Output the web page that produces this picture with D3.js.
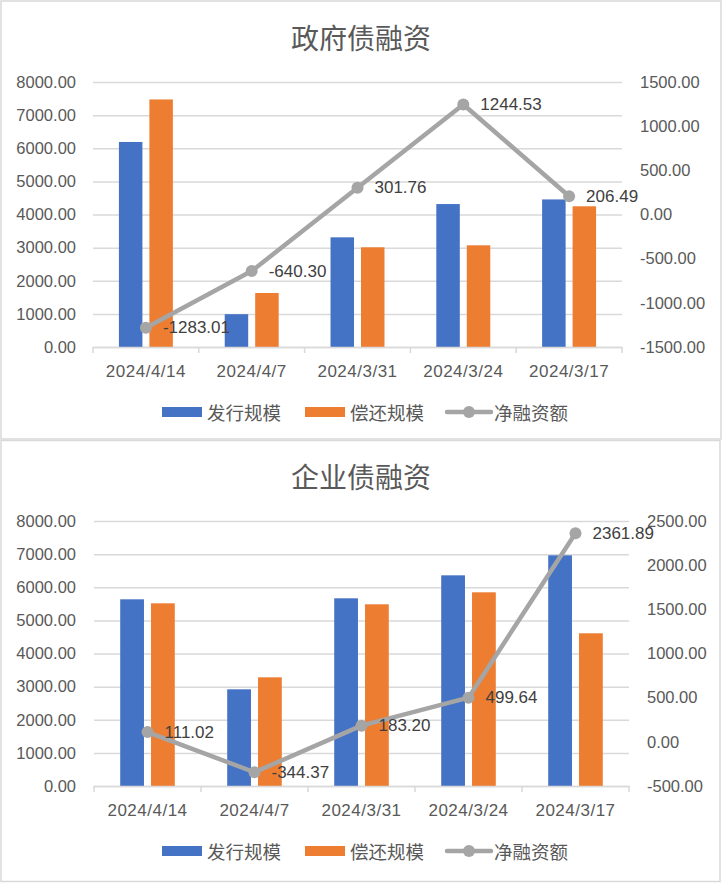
<!DOCTYPE html>
<html><head><meta charset="utf-8">
<script src="https://cdn.jsdelivr.net/npm/d3@7"></script>
<style>body{margin:0;background:#fff}</style>
</head><body><svg id="c" width="723" height="883"></svg>
<script>
const categories = ["2024/4/14","2024/4/7","2024/3/31","2024/3/24","2024/3/17"];
const seriesNames = ["发行规模","偿还规模","净融资额"];
const govTitle = "政府债融资";
const govIssue = [6190, 990, 3311, 4315, 4455];
const govRepay = [7473, 1630, 3010, 3070, 4248];
const govNet = [-1283.01, -640.30, 301.76, 1244.53, 206.49];
const corpTitle = "企业债融资";
const corpIssue = [5636, 2919, 5666, 6360, 6964];
const corpRepay = [5515, 3281, 5485, 5847, 4610];
const corpNet = [111.02, -344.37, 183.20, 499.64, 2361.89];
const leftTicks = [0,1000,2000,3000,4000,5000,6000,7000,8000];
const govRightTicks = [-1500,-1000,-500,0,500,1000,1500];
const corpRightTicks = [-500,0,500,1000,1500,2000,2500];

const COLORS = {issue:"#4472C4", repay:"#ED7D31", net:"#A5A5A5", grid:"#D9D9D9", text:"#595959", label:"#404040"};
const NUMFONT = "'Liberation Sans', Arial, sans-serif";
const CJKFONT = "'Noto Sans CJK SC', sans-serif";
const fmt = v => Number(v).toFixed(2);
const svg = d3.select("#c");

function drawPanel(cfg){
  const g = svg.append("g");
  g.append("rect").attr("x",cfg.box[0]).attr("y",cfg.box[1]).attr("width",cfg.box[2]).attr("height",cfg.box[3])
    .attr("fill","#fff").attr("stroke","#D9D9D9").attr("stroke-width",1.5);
  g.append("text").attr("x",cfg.titleX).attr("y",cfg.titleY).attr("text-anchor","middle")
    .attr("dominant-baseline","central").attr("font-family",CJKFONT).attr("font-size",28)
    .attr("fill",COLORS.text).text(cfg.title);

  const x = d3.scaleBand().domain(categories).range([cfg.x0,cfg.x1]).padding(0);
  const yL = d3.scaleLinear().domain([0,8000]).range([cfg.yBot,cfg.yTop]);
  const yR = d3.scaleLinear().domain(d3.extent(cfg.rightTicks)).range([cfg.yBot,cfg.yTop]);

  const grid = g.append("g").attr("transform",`translate(${cfg.x0},0)`)
    .call(d3.axisLeft(yL).tickValues(leftTicks).tickSize(-(cfg.x1-cfg.x0)).tickFormat(""));
  grid.select(".domain").remove();
  grid.selectAll("line").attr("stroke",COLORS.grid).attr("stroke-width",1.5);

  const la = g.append("g").attr("transform",`translate(${cfg.x0},0)`)
    .call(d3.axisLeft(yL).tickValues(leftTicks).tickSize(0).tickPadding(cfg.x0-cfg.leftLabelX).tickFormat(fmt));
  la.select(".domain").remove();
  la.selectAll("text").attr("font-family",NUMFONT).attr("font-size",16.5).attr("fill",COLORS.text);

  const ra = g.append("g").attr("transform",`translate(${cfg.x1},0)`)
    .call(d3.axisRight(yR).tickValues(cfg.rightTicks).tickSize(0).tickPadding(cfg.rightLabelX-cfg.x1).tickFormat(fmt));
  ra.select(".domain").remove();
  ra.selectAll("text").attr("font-family",NUMFONT).attr("font-size",16.5).attr("fill",COLORS.text);

  const bw = x.bandwidth();
  const barW = bw*0.222, gap = bw*0.066;
  const rows = categories.map((c,i)=>({c, issue:cfg.issue[i], repay:cfg.repay[i], net:cfg.net[i]}));
  g.append("g").selectAll("rect").data(rows).join("rect")
    .attr("x",d=>x(d.c)+bw/2-gap/2-barW).attr("width",barW)
    .attr("y",d=>yL(d.issue)).attr("height",d=>yL(0)-yL(d.issue)).attr("fill",COLORS.issue);
  g.append("g").selectAll("rect").data(rows).join("rect")
    .attr("x",d=>x(d.c)+bw/2+gap/2).attr("width",barW)
    .attr("y",d=>yL(d.repay)).attr("height",d=>yL(0)-yL(d.repay)).attr("fill",COLORS.repay);

  const ba = g.append("g").attr("transform",`translate(0,${cfg.yBot})`)
    .call(d3.axisBottom(x).tickSize(0).tickPadding(18));
  ba.select(".domain").attr("stroke",COLORS.grid).attr("stroke-width",1.5);
  ba.selectAll("text").attr("font-family",NUMFONT).attr("font-size",17).attr("letter-spacing",0.5).attr("fill",COLORS.text);
  const bounds = categories.map(c=>x(c)).concat([x.range()[1]]);
  g.append("g").selectAll("line").data(bounds).join("line")
    .attr("x1",d=>d).attr("x2",d=>d).attr("y1",cfg.yBot).attr("y2",cfg.yBot+6)
    .attr("stroke",COLORS.grid).attr("stroke-width",1.5);

  const cx = d=>x(d.c)+bw/2;
  g.append("path").datum(rows).attr("fill","none").attr("stroke",COLORS.net).attr("stroke-width",4.5)
    .attr("stroke-linejoin","round").attr("d",d3.line().x(cx).y(d=>yR(d.net)));
  g.append("g").selectAll("circle").data(rows).join("circle")
    .attr("cx",cx).attr("cy",d=>yR(d.net)).attr("r",6).attr("fill",COLORS.net);
  g.append("g").selectAll("text").data(rows).join("text")
    .attr("x",d=>cx(d)+17).attr("y",d=>yR(d.net)).attr("dominant-baseline","central")
    .attr("font-family",NUMFONT).attr("font-size",17).attr("fill",COLORS.label).text(d=>fmt(d.net));

  const lg = g.append("g").attr("transform",`translate(0,${cfg.legendY})`);
  const items = [
    {name:seriesNames[0], type:"rect", color:COLORS.issue, x:162},
    {name:seriesNames[1], type:"rect", color:COLORS.repay, x:305},
    {name:seriesNames[2], type:"line", color:COLORS.net, x:447}
  ];
  items.forEach(it=>{
    if(it.type==="rect"){
      lg.append("rect").attr("x",it.x).attr("y",-5).attr("width",40).attr("height",10).attr("fill",it.color);
    } else {
      lg.append("line").attr("x1",it.x).attr("x2",it.x+44).attr("y1",0).attr("y2",0)
        .attr("stroke",it.color).attr("stroke-width",4.5).attr("stroke-linecap","round");
      lg.append("circle").attr("cx",it.x+22).attr("cy",0).attr("r",6).attr("fill",it.color);
    }
    lg.append("text").attr("x",it.x+(it.type==="rect"?45:47)).attr("y",0).attr("dominant-baseline","central")
      .attr("font-family",CJKFONT).attr("font-size",18.5).attr("fill",COLORS.text).text(it.name);
  });
}

drawPanel({box:[1,1,720,438], title:govTitle, titleX:361, titleY:37,
  x0:93, x1:622, yTop:82, yBot:347, leftLabelX:76, rightLabelX:640,
  rightTicks:govRightTicks, issue:govIssue, repay:govRepay, net:govNet, legendY:412});
drawPanel({box:[1,440.5,719,441], title:corpTitle, titleX:361, titleY:476,
  x0:94, x1:629, yTop:521, yBot:786, leftLabelX:76, rightLabelX:647,
  rightTicks:corpRightTicks, issue:corpIssue, repay:corpRepay, net:corpNet, legendY:851});
</script></body></html>
